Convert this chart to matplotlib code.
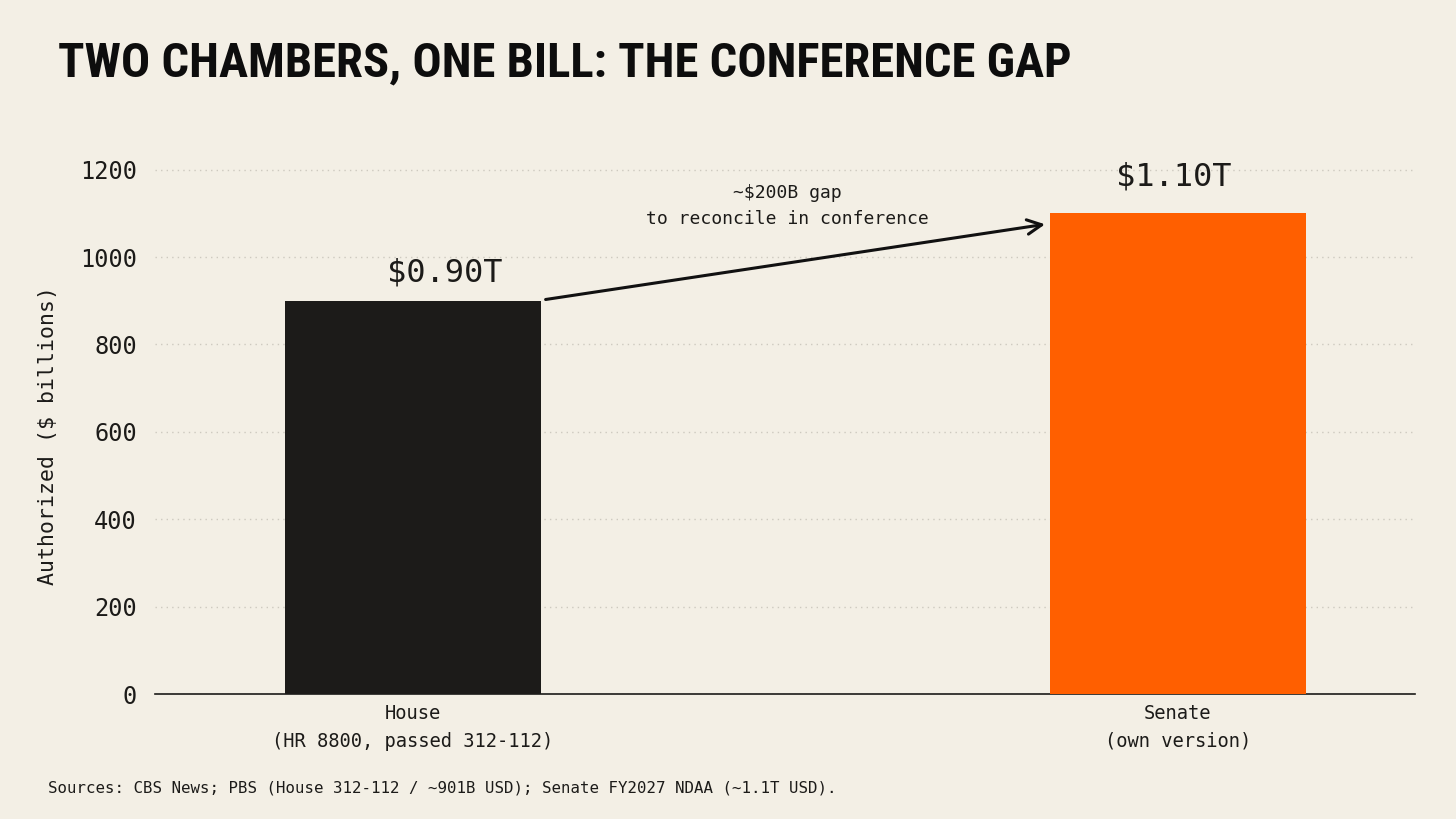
import matplotlib
matplotlib.use("Agg")
import matplotlib.pyplot as plt
from matplotlib import font_manager

categories = ["House\n(HR 8800, passed 312-112)", "Senate\n(own version)"]
values = [900, 1100]
value_labels = ["$0.90T", "$1.10T"]
bar_colors = ["#1c1b19", "#ff5f00"]
yticks = [0, 200, 400, 600, 800, 1000, 1200]

bg = "#f3efe5"
mono = "DejaVu Sans Mono"

names = sorted({f.name for f in font_manager.fontManager.ttflist})
title_font = "DejaVu Sans"
for cand in ["Liberation Sans Narrow", "DejaVu Sans Condensed", "Roboto Condensed", "Open Sans Condensed"]:
    if cand in names:
        title_font = cand
        break

fig = plt.figure(figsize=(14.56, 8.19), dpi=100, facecolor=bg)
ax = fig.add_axes([155/1456, 1-694/819, (1415-155)/1456, (694-140)/819])
ax.set_facecolor(bg)

x = list(range(len(categories)))
ax.bar(x, values, width=0.335, color=bar_colors, zorder=3)
ax.set_xlim(-0.337, 1.31)
ax.set_ylim(0, 1268)

# label placement tweaks (House label sits a bit right and lower)
label_dx = [0.042, -0.006]
label_dy = [28, 48]
for xi, v, lab, dx, dy in zip(x, values, value_labels, label_dx, label_dy):
    ax.text(xi + dx, v + dy, lab, ha="center", va="bottom", fontsize=23, family=mono, color="#1c1b19")

ax.annotate("", xy=(0.83, 1076), xytext=(0.17, 902),
            arrowprops=dict(arrowstyle="->", color="#111111", lw=2.2, mutation_scale=26), zorder=4)
ax.text(0.49, 1117, "~$200B gap\nto reconcile in conference", ha="center", va="center",
        fontsize=13, family=mono, color="#1c1b19", linespacing=1.6)

ax.set_yticks(yticks)
ax.set_xticks(x)
ax.set_xticklabels(categories, family=mono, fontsize=13.5, color="#1c1b19", linespacing=1.6)
for t in ax.get_yticklabels():
    t.set_family(mono)
    t.set_fontsize(17)
    t.set_color("#1c1b19")
ax.tick_params(axis="y", length=0, pad=13)
ax.tick_params(axis="x", length=0, pad=7)
ax.yaxis.grid(True, linestyle=(0, (1, 3)), color="#cdc9bf", lw=1, zorder=0)
for s in ["top", "right", "left"]:
    ax.spines[s].set_visible(False)
ax.spines["bottom"].set_color("#1c1b19")
ax.spines["bottom"].set_linewidth(1.2)
ax.set_ylabel("Authorized ($ billions)", family=mono, fontsize=15.5, color="#1c1b19", labelpad=16)
ax.yaxis.label.set_y(0.466)

fig.text(58/1456, 1-63/819, "TWO CHAMBERS, ONE BILL: THE CONFERENCE GAP", ha="left", va="center",
         fontsize=35, fontweight="bold", family=title_font, color="#0d0d0d")
fig.text(48/1456, 1-788/819, "Sources: CBS News; PBS (House 312-112 / ~901B USD); Senate FY2027 NDAA (~1.1T USD).",
         ha="left", va="center", fontsize=11.3, family=mono, color="#1c1b19")

fig.savefig("out.png", dpi=100, facecolor=bg)
